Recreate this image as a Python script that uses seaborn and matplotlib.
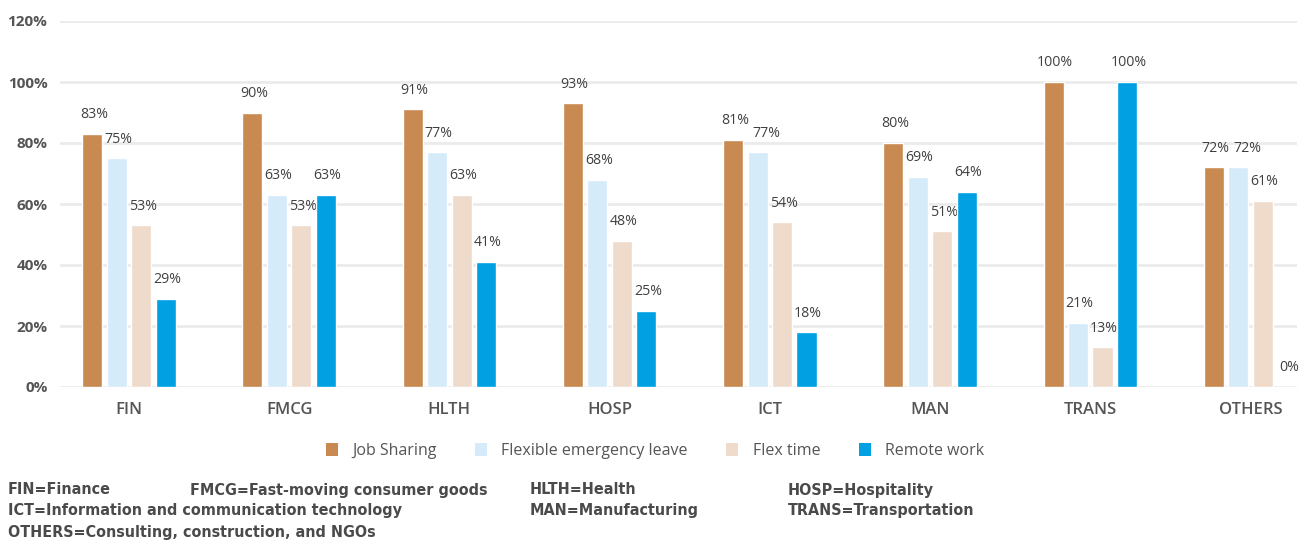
import matplotlib
matplotlib.use("Agg")
import matplotlib.pyplot as plt
import seaborn as sns
import pandas as pd
from matplotlib.patches import Patch

categories = ["FIN", "FMCG", "HLTH", "HOSP", "ICT", "MAN", "TRANS", "OTHERS"]
series_names = ["Job Sharing", "Flexible emergency leave", "Flex time", "Remote work"]
job_sharing = [83, 90, 91, 93, 81, 80, 100, 72]
flex_leave = [75, 63, 77, 68, 77, 69, 21, 72]
flex_time = [53, 53, 63, 48, 54, 51, 13, 61]
remote_work = [29, 63, 41, 25, 18, 64, 100, 0]
y_ticks = [0, 20, 40, 60, 80, 100, 120]
footnotes = [
    ("FIN=Finance", 8, 490), ("FMCG=Fast-moving consumer goods", 190, 490),
    ("HLTH=Health", 530, 490), ("HOSP=Hospitality", 788, 490),
    ("ICT=Information and communication technology", 8, 511),
    ("MAN=Manufacturing", 530, 511), ("TRANS=Transportation", 788, 511),
    ("OTHERS=Consulting, construction, and NGOs", 8, 532),
]
colors = ["#C98A52", "#D5EBF9", "#EEDBCB", "#00A0E2"]

rows = []
for name, vals in zip(series_names, [job_sharing, flex_leave, flex_time, remote_work]):
    for c, v in zip(categories, vals):
        rows.append({"cat": c, "series": name, "value": v})
df = pd.DataFrame(rows)

sns.set_theme(style="white")
plt.rcParams['font.family'] = ['Open Sans', 'DejaVu Sans']

W, H = 1312, 540
fig = plt.figure(figsize=(W / 100, H / 100), dpi=100)
ax = fig.add_axes([60 / W, 1 - 387 / H, (1297 - 60) / W, (387 - 21) / H])

sns.barplot(data=df, x="cat", y="value", hue="series", order=categories,
            hue_order=series_names, palette=colors, width=0.61, gap=0.18,
            ax=ax, legend=False, saturation=1, errorbar=None)

labels = {}
for i, cont in enumerate(ax.containers):
    for j, bar in enumerate(cont):
        bar.set_zorder(3 + 2 * i)
        h = bar.get_height()
        t = ax.text(bar.get_x() + bar.get_width() / 2 + 0.01, h + 3.8, f"{h:.0f}%",
                    ha="center", va="bottom", fontsize=10.2, color="#404040",
                    fontweight="normal", zorder=4 + 2 * i)
        labels.setdefault(j, []).append(t)

ax.set_ylim(0, 120)
ax.set_xlim(-0.43, 7.29)
ax.set_yticks(y_ticks)
ax.set_yticklabels([f"{t}%" for t in y_ticks], fontsize=11, fontweight="bold", color="#555555")
ax.set_xticks(range(len(categories)))
ax.set_xticklabels(categories, fontsize=12, color="#555555", fontweight="semibold")
ax.set_xlabel("")
ax.set_ylabel("")
ax.grid(axis="y", color="#ebebeb", linewidth=2, zorder=0)
ax.set_axisbelow(True)
for s in ax.spines.values():
    s.set_visible(False)
ax.tick_params(axis="y", length=0, pad=9)
ax.tick_params(axis="x", length=0, pad=11)

# nudge labels within a group apart when they would collide
fig.canvas.draw()
renderer = fig.canvas.get_renderer()
inv = ax.transData.inverted()
for j, texts in labels.items():
    for a, b in zip(texts[:-1], texts[1:]):
        ea = a.get_window_extent(renderer)
        eb = b.get_window_extent(renderer)
        vert_overlap = not (ea.y1 < eb.y0 or eb.y1 < ea.y0)
        if vert_overlap and eb.x0 < ea.x1 + 4:
            shift = (ea.x1 + 4 - eb.x0)
            x0, y0 = b.get_position()
            px, py = ax.transData.transform((x0, y0))
            nx, _ = inv.transform((px + shift, py))
            b.set_x(nx)

handles = [Patch(facecolor=c, edgecolor="none") for c in colors]
fig.legend(handles, series_names, loc="center", bbox_to_anchor=(655 / W, 1 - 451 / H),
           ncol=4, frameon=False, handlelength=0.75, handleheight=0.9,
           columnspacing=2.4, handletextpad=0.9, fontsize=11.5, labelcolor="#555555")

for txt, x, y in footnotes:
    fig.text(x / W, 1 - y / H, txt, ha="left", va="center", fontsize=11.5,
             fontweight="bold", color="#4a4a4a", fontstretch="condensed",
             family=['DejaVu Sans'])

fig.savefig("out.png", dpi=100)
